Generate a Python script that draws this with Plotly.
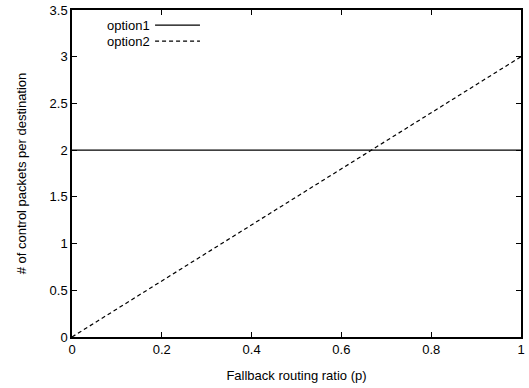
import plotly.graph_objects as go

p = [0, 1]
option1 = [2, 2]
option2 = [0, 3]
x_ticks = [0, 0.2, 0.4, 0.6, 0.8, 1]
x_tick_labels = ["0", "0.2", "0.4", "0.6", "0.8", "1"]
y_ticks = [0, 0.5, 1, 1.5, 2, 2.5, 3, 3.5]
y_tick_labels = ["0", "0.5", "1", "1.5", "2", "2.5", "3", "3.5"]
series_names = ["option1", "option2"]

font = dict(family="Liberation Sans, Arial, sans-serif", size=13, color="black")

fig = go.Figure()
fig.add_trace(go.Scatter(x=p, y=option1, mode="lines", name=series_names[0],
                         line=dict(color="black", width=1.2), showlegend=False,
                         cliponaxis=False))
fig.add_trace(go.Scatter(x=p, y=option2, mode="lines", name=series_names[1],
                         line=dict(color="black", width=1.2, dash="4px,3px"), showlegend=False,
                         cliponaxis=False))

# manual legend (text right-aligned, sample line on the right)
legend_rows = [(0.954, "solid"), (0.905, "4px,3px")]
for name, (yy, dash) in zip(series_names, legend_rows):
    fig.add_annotation(xref="paper", yref="paper", x=0.178, y=yy, text=name,
                       showarrow=False, xanchor="right", yanchor="middle", font=font)
    fig.add_shape(type="line", xref="paper", yref="paper", x0=0.185, x1=0.285, y0=yy, y1=yy,
                  line=dict(color="black", width=1.2, dash=dash))

axis_common = dict(showgrid=False, zeroline=False, showline=True, linecolor="black",
                   linewidth=1.5, mirror="allticks", ticks="inside", ticklen=5,
                   tickwidth=1, tickcolor="black", tickfont=font, automargin=False)
fig.update_xaxes(range=[0, 1], tickvals=x_ticks, ticktext=x_tick_labels,
                 title=dict(text="Fallback routing ratio (p)", font=font, standoff=15),
                 **axis_common)
fig.update_yaxes(range=[0, 3.5], tickvals=y_ticks, ticktext=y_tick_labels,
                 title=dict(text="# of control packets per destination", font=font, standoff=20),
                 **axis_common)
fig.update_layout(width=529, height=388, margin=dict(l=72, r=8, t=10, b=51),
                  plot_bgcolor="white", paper_bgcolor="white", font=font)
fig.write_html("out.html", config={"displayModeBar": False},
               post_script="document.body.style.margin='0';")
